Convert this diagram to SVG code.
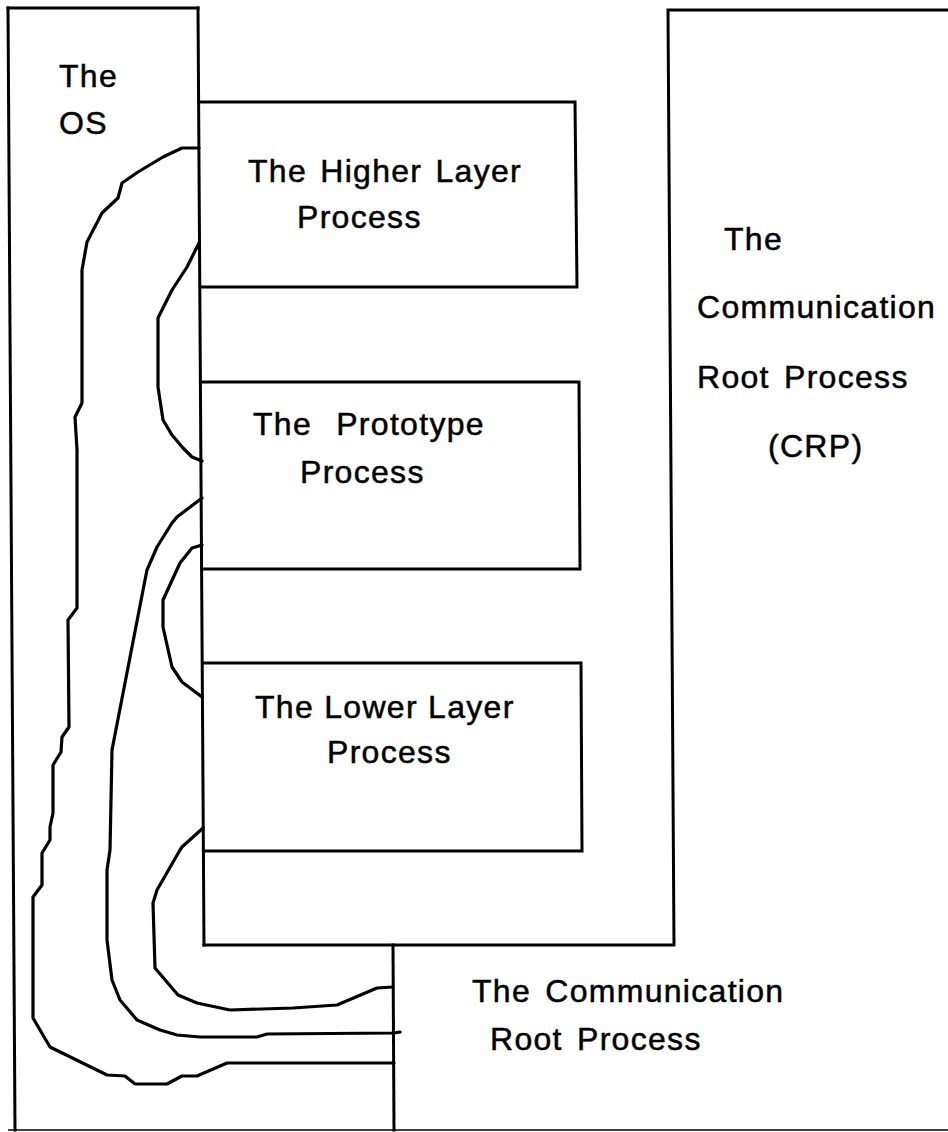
<svg xmlns="http://www.w3.org/2000/svg" width="948" height="1132" viewBox="0 0 948 1132">
  <style>
    .edge { fill: none; stroke: #000; stroke-width: 3; stroke-linecap: square; }
    .thin { fill: none; stroke: #000; stroke-width: 1.6; }
    .path { fill: none; stroke: #000; stroke-width: 3.2; stroke-linejoin: round; stroke-linecap: round; }
    .lbl { font-family: "Liberation Sans", Arial, sans-serif; font-size: 32px; letter-spacing: 1.3px; fill: #000; stroke: #000; stroke-width: 0.5; }
  </style>
  <rect x="0" y="0" width="948" height="1132" fill="#fff"/>

  <!-- operating system region (left column, widening under the process frame) -->
  <g id="os">
    <line class="edge" x1="8" y1="8" x2="198" y2="8"/>
    <line class="edge" x1="8" y1="8" x2="15" y2="1130"/>
    <line class="edge" x1="198" y1="8" x2="204" y2="945"/>
    <text class="lbl" x="59" y="87">The</text>
    <text class="lbl" x="59" y="134" letter-spacing="-1">OS</text>
  </g>

  <g id="higher-layer">
    <polyline class="edge" points="199,102 575,102 577,287 200,287"/>
    <text class="lbl" x="248" y="182" word-spacing="3">The Higher Layer</text>
    <text class="lbl" x="297" y="228">Process</text>
  </g>

  <g id="prototype">
    <polyline class="edge" points="201,382 579,382 580,569 202,569"/>
    <text class="lbl" x="253" y="435" word-spacing="14">The Prototype</text>
    <text class="lbl" x="300" y="483">Process</text>
  </g>

  <g id="lower-layer">
    <polyline class="edge" points="203,663 581,663 582,851 204,851"/>
    <text class="lbl" x="255" y="718">The Lower Layer</text>
    <text class="lbl" x="327" y="763">Process</text>
  </g>

  <!-- CRP: right column plus the frame that holds the three processes -->
  <g id="crp">
    <polyline class="edge" points="948,10 668,10 674,945 204,945"/>
    <text class="lbl" x="724" y="250">The</text>
    <text class="lbl" x="697" y="318">Communication</text>
    <text class="lbl" x="697" y="388" word-spacing="4">Root Process</text>
    <text class="lbl" x="768" y="457">(CRP)</text>
  </g>

  <g id="comm-root">
    <line class="edge" x1="393" y1="945" x2="394" y2="1130"/>
    <line class="thin" x1="8" y1="1130" x2="948" y2="1130"/>
    <text class="lbl" x="472" y="1002" word-spacing="4">The Communication</text>
    <text class="lbl" x="490" y="1050" word-spacing="4">Root Process</text>
  </g>

  <!-- communication paths running through the OS -->
  <g id="connectors">
    <polyline class="path" points="199,148 182,148 163,157 138,172 122,183 118,198 102,213 87,242 82,270 82,403 75,417 77,450 77,608 68,620 69,727 62,737 61,752 53,765 53,813 50,827 50,840 42,853 42,885 33,897 33,1018 50,1047 107,1075 125,1076 135,1084 167,1084 182,1076 197,1076 227,1063 394,1063"/>
    <polyline class="path" points="202,498 177,517 172,523 157,547 147,570 145,580 112,750 110,850 107,870 107,940 112,980 120,1000 137,1020 160,1030 177,1035 200,1037 257,1037 267,1034 394,1033 400,1032"/>
    <polyline class="path" points="199,243 187,267 172,290 158,318 158,387 163,420 172,435 183,448 192,457 202,461"/>
    <polyline class="path" points="202,545 192,548 180,563 163,600 163,627 172,667 182,682 202,697"/>
    <polyline class="path" points="203,828 182,847 180,850 157,890 153,903 155,968 178,995 197,1003 230,1010 293,1008 337,1005 377,988 393,987"/>
  </g>
</svg>
